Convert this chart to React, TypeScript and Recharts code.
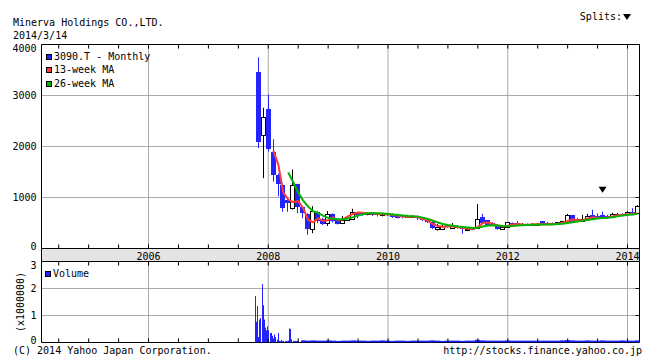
import React from "react"
import { ComposedChart, Bar, Line, XAxis, YAxis, CartesianGrid, ReferenceLine, ReferenceArea, ReferenceDot } from "recharts"

const MONO = "'DejaVu Sans Mono', monospace"
const BLUE = "#2323ff"
const RED = "#ff3a3a"
const GREEN = "#00b400"
const GRID = "#aaaaaa"

// months counted from Jan 2004 (= 0); first candle is Nov 2007
const FIRST_MONTH = 46
const X_DOMAIN: [number, number] = [2.55, 122.4]

const opens = [3470, 2230, 2745, 1900, 1450, 1240, 960, 800, 1255, 820, 686, 380, 725, 580, 505, 686, 575, 505, 555, 582,
  711, 700, 670, 700, 690, 650, 690, 680, 650, 640, 615, 610, 620, 615, 560, 520, 385, 385, 470, 405,
  450, 420, 365, 390, 405, 614, 550, 500, 450, 385, 425, 500, 500, 470, 480, 465, 470, 530, 500, 500,
  490, 500, 515, 650, 580, 545, 585, 650, 640, 650, 640, 615, 660, 680, 680, 720, 690]
const highs = [3750, 2760, 3020, 2140, 1470, 1280, 1010, 1550, 1270, 830, 690, 830, 730, 600, 735, 690, 580, 640, 620, 778,
  720, 710, 705, 710, 700, 700, 700, 690, 665, 650, 660, 650, 650, 620, 570, 530, 480, 470, 480, 500,
  460, 440, 395, 400, 875, 680, 560, 520, 460, 440, 520, 510, 540, 500, 490, 500, 500, 540, 520, 510,
  520, 540, 680, 660, 600, 660, 680, 760, 690, 720, 660, 700, 700, 690, 730, 790, 850]
const lows = [1970, 1380, 1900, 1310, 1025, 720, 720, 765, 690, 595, 270, 300, 500, 460, 440, 510, 470, 490, 540, 560,
  594, 640, 650, 640, 630, 630, 640, 600, 590, 590, 600, 600, 560, 540, 500, 380, 350, 370, 410, 400,
  390, 290, 350, 360, 400, 490, 440, 440, 370, 380, 420, 460, 460, 460, 440, 450, 460, 460, 460, 470,
  480, 490, 510, 510, 530, 540, 570, 570, 590, 580, 590, 600, 650, 630, 670, 650, 680]
const closes = [2085, 2580, 1950, 1445, 1255, 790, 900, 1250, 820, 700, 380, 740, 549, 475, 680, 530, 477, 550, 605, 720,
  660, 685, 690, 660, 650, 680, 655, 615, 600, 610, 640, 630, 600, 550, 520, 400, 430, 450, 420, 450,
  410, 390, 385, 370, 580, 503, 450, 450, 385, 430, 510, 480, 470, 480, 460, 480, 485, 470, 470, 480,
  510, 530, 665, 520, 540, 570, 640, 585, 600, 590, 600, 680, 680, 640, 725, 660, 840]
const ma13 = [null, null, null, 1920, 1650, 1100, 960, 910, 930, 790, 560, 515, 590, 540, 555, 610, 555, 575, 630, 680,
  705, 700, 690, 685, 675, 670, 665, 655, 640, 625, 620, 625, 610, 580, 540, 480, 440, 420, 430, 430,
  420, 400, 385, 380, 420, 500, 510, 480, 450, 430, 445, 470, 480, 470, 465, 470, 475, 480, 475, 478,
  485, 500, 540, 570, 560, 555, 590, 610, 605, 600, 610, 630, 650, 660, 670, 680, 690]
const ma26 = [null, null, null, null, null, null, 1490, 1300, 1100, 940, 820, 730, 700, 640, 600, 585, 575, 575, 590, 615,
  645, 670, 690, 695, 690, 685, 675, 665, 655, 645, 635, 630, 625, 605, 580, 545, 510, 480, 460, 445,
  430, 420, 410, 400, 405, 430, 450, 455, 450, 440, 435, 440, 450, 455, 460, 465, 468, 470, 470, 472,
  478, 485, 500, 515, 530, 545, 560, 575, 590, 600, 605, 615, 630, 645, 655, 665, 680]

const yearTicks = [24, 48, 72, 96, 120]
const halfYears = [6, 12, 18, 24, 30, 36, 42, 48, 54, 60, 66, 72, 78, 84, 90, 96, 102, 108, 114, 120]
const priceTicks = [0, 1000, 2000, 3000, 4000]
const volumeTicks = [0, 1, 2, 3]
const SPLIT_MONTH = 115

// volume in millions of shares: weekly at first, monthly afterwards
const FIRST_WEEK = 45.4
const weeklyVolume = [1.72, 0.77, 1.35, 0.2, 0.85, 0.9, 2.16, 1.38, 0.85, 0.55, 0.45, 0.6, 0.45, 0.35, 0.35, 0.25, 0.15, 0.3, 0.2, 0.1,
  0.35, 0.06, 0.05, 0.1, 0.05, 0.06, 0.05, 0.06, 0.05, 0.07, 0.52, 0.5, 0.12, 0.06, 0.05, 0.06, 0.05, 0.06, 0.05]
const FIRST_VOL_MONTH = 55
const monthlyVolume = [0.08, 0.07, 0.08, 0.07, 0.07, 0.08, 0.07, 0.06, 0.07, 0.07, 0.08, 0.07,
  0.07, 0.06, 0.07, 0.07, 0.08, 0.07, 0.06, 0.07, 0.07, 0.06, 0.07, 0.07,
  0.07, 0.07, 0.08, 0.07, 0.06, 0.07, 0.07, 0.07, 0.06, 0.07, 0.07, 0.1,
  0.08, 0.07, 0.07, 0.07, 0.07, 0.08, 0.07, 0.07, 0.07, 0.07, 0.07, 0.07,
  0.07, 0.07, 0.07, 0.07, 0.08, 0.09, 0.08, 0.07, 0.07, 0.08, 0.07, 0.07,
  0.08, 0.07, 0.07, 0.07, 0.08, 0.07, 0.07, 0.08]

const candles = opens.map((o, i) => ({ t: FIRST_MONTH + i, o, h: highs[i], l: lows[i], c: closes[i], ma13: ma13[i], ma26: ma26[i] }))
const volumes = [
  ...weeklyVolume.map((v, k) => ({ t: FIRST_WEEK + (k * 7) / 30.44, v, monthly: false })),
  ...monthlyVolume.map((v, j) => ({ t: FIRST_VOL_MONTH + j, v, monthly: true })),
]

function Candle(props: any) {
  const { x, y, width, height, payload } = props
  if (x == null || !payload) return null
  const { o, h, l, c } = payload
  const top = Math.min(y, y + height)
  const span = Math.abs(height)
  const py = (v: number) => top + (h === l ? 0 : ((h - v) / (h - l)) * span)
  const cx = Math.floor(x + width / 2)
  const up = c >= o
  const bTop = Math.round(py(Math.max(o, c)))
  const bBot = Math.round(py(Math.min(o, c)))
  return (
    <g>
      <line x1={cx + 0.5} x2={cx + 0.5} y1={top} y2={top + span} stroke={up ? "#000" : BLUE} strokeWidth={1} />
      {up
        ? <rect x={cx - 1.5} y={bTop + 0.5} width={4} height={Math.max(1, bBot - bTop)} fill="#fff" stroke="#000" strokeWidth={1} />
        : <rect x={cx - 2} y={bTop} width={5} height={Math.max(1, bBot - bTop)} fill={BLUE} />}
    </g>
  )
}

function VolBar(props: any) {
  const { x, y, width, height, payload } = props
  if (x == null || !payload) return null
  const w = payload.monthly ? 5 : 1
  const cx = x + width / 2
  return <rect x={Math.round(cx - w / 2)} y={y} width={w} height={Math.max(0, height)} fill={BLUE} />
}

const yTick = (maxV: number) => (p: any) => {
  const v = p.payload.value
  const dy = v === maxV ? 4 : v === 0 ? -2 : 0
  return <text x={p.x} y={p.y + dy} textAnchor="end" dominantBaseline="central" fontSize={10} fontFamily={MONO} fill="#000">{v}</text>
}

function Key({ color, label, left, top }: { color: string; label: string; left: number; top: number }) {
  return (
    <div style={{ position: "absolute", left, top, height: 12, lineHeight: "12px", display: "flex", alignItems: "center", whiteSpace: "pre" }}>
      <span style={{ display: "inline-block", width: 4, height: 4, background: color, border: "1px solid #000", marginRight: 2 }} />
      {label}
    </div>
  )
}

const txt: React.CSSProperties = { position: "absolute", lineHeight: "12px", whiteSpace: "pre" }

export default function App() {
  const tickStyle = { fontSize: 10, fontFamily: MONO, fill: "#000" }
  return (
    <div style={{ position: "absolute", left: 0, top: 0, width: 655, height: 364, background: "#fff", fontFamily: MONO, fontSize: 10, color: "#000", overflow: "hidden" }}>
      <div style={{ position: "absolute", left: 41, top: 248, width: 599, height: 14, background: "#e5e5e5", borderLeft: "1px solid #000", borderRight: "1px solid #000", boxSizing: "border-box" }} />

      <div style={{ position: "absolute", left: 0, top: 0 }}>
        <ComposedChart width={655} height={262.5} data={candles} margin={{ top: 44.5, right: 15.5, bottom: 0, left: 0 }}>
          <CartesianGrid stroke={GRID} />
          <XAxis type="number" dataKey="t" domain={X_DOMAIN} allowDataOverflow ticks={yearTicks} interval={0}
            tickFormatter={(m: number) => String(2004 + m / 12)} axisLine={false} tickLine={false} tickSize={0} tickMargin={4} height={14} tick={tickStyle} />
          <YAxis domain={[0, 4000]} allowDataOverflow ticks={priceTicks} interval={0} width={41.5} axisLine={false} tickLine={false} tickSize={0} tickMargin={5} tick={yTick(4000)} />
          <Bar dataKey={(d: any) => [d.l, d.h]} barSize={5} shape={<Candle />} isAnimationActive={false} />
          <Line type="linear" dataKey="ma13" stroke={RED} strokeWidth={2} dot={false} isAnimationActive={false} />
          <Line type="linear" dataKey="ma26" stroke={GREEN} strokeWidth={2} dot={false} isAnimationActive={false} />
          <ReferenceArea x1={X_DOMAIN[0]} x2={X_DOMAIN[1]} y1={0} y2={4000} fill="none" stroke="#000" strokeWidth={1} />
          {halfYears.map((m) => (
            <ReferenceLine key={"b" + m} segment={[{ x: m, y: 0 }, { x: m, y: 80 }]} stroke="#000" />
          ))}
          {halfYears.map((m) => (
            <ReferenceLine key={"t" + m} segment={[{ x: m, y: 4000 }, { x: m, y: 3920 }]} stroke="#000" />
          ))}
          {priceTicks.slice(1, -1).map((v) => (
            <ReferenceLine key={"r" + v} segment={[{ x: X_DOMAIN[1] - 0.8, y: v }, { x: X_DOMAIN[1], y: v }]} stroke="#000" />
          ))}
          <ReferenceDot x={SPLIT_MONTH} y={1150} r={0}
            shape={(p: any) => <polygon points={`${p.cx - 4},${p.cy - 3} ${p.cx + 4},${p.cy - 3} ${p.cx},${p.cy + 3}`} fill="#000" />} />
        </ComposedChart>
      </div>

      <div style={{ position: "absolute", left: 0, top: 0 }}>
        <ComposedChart width={655} height={364} data={volumes} margin={{ top: 261.5, right: 15.5, bottom: 21.5, left: 0 }}>
          <CartesianGrid stroke={GRID} verticalValues={yearTicks} />
          <XAxis type="number" dataKey="t" domain={X_DOMAIN} allowDataOverflow ticks={yearTicks} interval={0} hide />
          <YAxis domain={[0, 3]} allowDataOverflow ticks={volumeTicks} interval={0} width={41.5} axisLine={false} tickLine={false} tickSize={0} tickMargin={5} tick={yTick(3)} />
          <Bar dataKey="v" barSize={1} shape={<VolBar />} isAnimationActive={false} />
          <ReferenceArea x1={X_DOMAIN[0]} x2={X_DOMAIN[1]} y1={0} y2={3} fill="none" stroke="#000" strokeWidth={1} />
          {halfYears.map((m) => (
            <ReferenceLine key={"b" + m} segment={[{ x: m, y: 0 }, { x: m, y: 0.15 }]} stroke="#000" />
          ))}
          {halfYears.map((m) => (
            <ReferenceLine key={"t" + m} segment={[{ x: m, y: 3 }, { x: m, y: 2.85 }]} stroke="#000" />
          ))}
          {volumeTicks.slice(1, -1).map((v) => (
            <ReferenceLine key={"r" + v} segment={[{ x: X_DOMAIN[1] - 0.8, y: v }, { x: X_DOMAIN[1], y: v }]} stroke="#000" />
          ))}
        </ComposedChart>
      </div>

      <div style={{ ...txt, left: 13, top: 17 }}>Minerva Holdings CO.,LTD.</div>
      <div style={{ ...txt, left: 13, top: 30 }}>2014/3/14</div>
      <div style={{ ...txt, right: 24, top: 11, display: "flex", alignItems: "center" }}>
        Splits:
        <svg width={8} height={7} style={{ marginLeft: 1 }}><polygon points="0,0 8,0 4,6" fill="#000" /></svg>
      </div>

      <Key color={BLUE} label="3090.T - Monthly" left={46} top={51} />
      <Key color={RED} label="13-week MA" left={46} top={64} />
      <Key color={GREEN} label="26-week MA" left={46} top={78} />
      <Key color={BLUE} label="Volume" left={45} top={268} />

      <div style={{ ...txt, left: 21, top: 302, lineHeight: "10px", transform: "translate(-50%, -50%) rotate(-90deg)" }}>(x1000000)</div>

      <div style={{ ...txt, left: 13, top: 345 }}>(C) 2014 Yahoo Japan Corporation.</div>
      <div style={{ ...txt, right: 13, top: 345 }}>http://stocks.finance.yahoo.co.jp</div>
    </div>
  )
}
